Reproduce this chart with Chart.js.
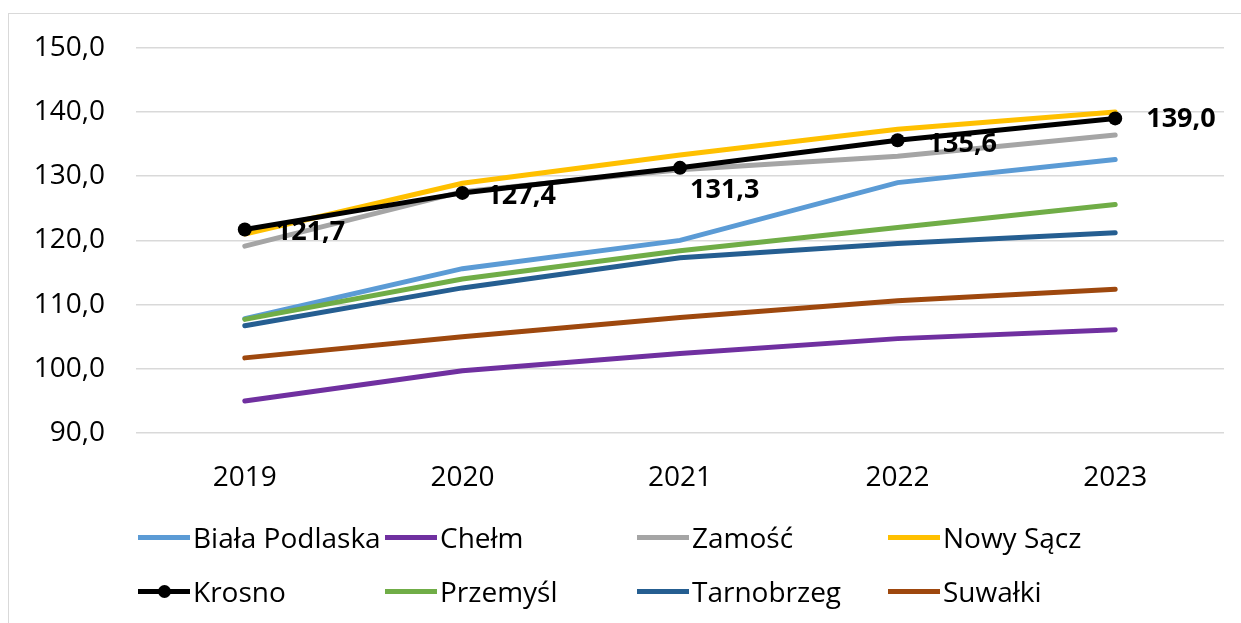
<!DOCTYPE html>
<html>
<head>
<meta charset="utf-8">
<script src="https://cdn.jsdelivr.net/npm/chart.js@4"></script>
<style>
  html, body { margin: 0; padding: 0; background: #fff; overflow: hidden; }
  #frame { position: absolute; left: 8px; top: 13px; width: 1260px; height: 640px;
           border: 1.5px solid #d9d9d9; box-sizing: border-box; }
  #c { position: absolute; left: 0; top: 0; }
  #legend { position: absolute; left: 138px; top: 514px; display: grid;
            grid-template-columns: 247px 252px 251px 250px; grid-auto-rows: 54px;
            font-family: "Open Sans", sans-serif; font-size: 28px; color: #000; }
  .item { display: flex; align-items: center; white-space: nowrap; height: 46px; }
  .swatch { position: relative; width: 52px; height: 5px; margin-right: 3px; flex: none; }
  .dot { position: absolute; left: 20px; top: -4px; width: 13px; height: 13px; border-radius: 50%; }
</style>
</head>
<body>
<div id="frame"></div>
<canvas id="c" width="1241" height="623"></canvas>
<div id="legend"></div>
<script>
const years = ['2019', '2020', '2021', '2022', '2023'];
const cities = ['Biała Podlaska', 'Chełm', 'Zamość', 'Nowy Sącz', 'Krosno', 'Przemyśl', 'Tarnobrzeg', 'Suwałki'];
const colors = ['#5B9BD5', '#7030A0', '#A5A5A5', '#FFC000', '#000000', '#70AD47', '#255E91', '#9E480E'];

const bialaPodlaska = [107.8, 115.6, 120.0, 129.0, 132.6];
const chelm = [95.0, 99.7, 102.4, 104.7, 106.1];
const zamosc = [119.1, 127.6, 131.0, 133.1, 136.4];
const nowySacz = [121.0, 128.9, 133.3, 137.3, 140.0];
const krosno = [121.7, 127.4, 131.3, 135.6, 139.0];
const przemysl = [107.7, 114.0, 118.4, 122.0, 125.6];
const tarnobrzeg = [106.7, 112.6, 117.3, 119.5, 121.2];
const suwalki = [101.7, 105.0, 108.0, 110.6, 112.4];

const series = [bialaPodlaska, chelm, zamosc, nowySacz, krosno, przemysl, tarnobrzeg, suwalki];
const KROSNO = 4;

const fmt = v => v.toFixed(1).replace('.', ',');

// label offsets for Krosno data labels (dx, dy from the point)
const labelShift = [[31, 3], [24, 3], [10, 22], [30, 4], [31, 1]];

const krosnoLabels = {
  id: 'krosnoLabels',
  afterDatasetsDraw(chart) {
    const meta = chart.getDatasetMeta(KROSNO);
    const ctx = chart.ctx;
    ctx.save();
    ctx.font = 'bold 27px "Open Sans", sans-serif';
    ctx.fillStyle = '#000';
    ctx.textAlign = 'left';
    ctx.textBaseline = 'middle';
    meta.data.forEach((pt, i) => {
      const [dx, dy] = labelShift[i];
      ctx.fillText(fmt(krosno[i]), pt.x + dx, pt.y + dy);
    });
    ctx.restore();
  }
};

const datasets = series.map((data, i) => ({
  label: cities[i],
  data: data,
  borderColor: colors[i],
  backgroundColor: colors[i],
  borderWidth: 5,
  pointRadius: i === KROSNO ? 7 : 0,
  pointHoverRadius: i === KROSNO ? 7 : 0,
  pointBorderWidth: 0,
  tension: 0,
  borderCapStyle: 'round',
  order: 10 - i
}));

new Chart(document.getElementById('c'), {
  type: 'line',
  data: { labels: years, datasets: datasets },
  options: {
    responsive: false,
    animation: false,
    layout: { padding: { left: 0, right: 17, top: 46, bottom: 0 } },
    plugins: { legend: { display: false }, tooltip: { enabled: false } },
    scales: {
      x: {
        offset: true,
        grid: { display: false },
        border: { display: false },
        ticks: { color: '#000', padding: 20, font: { family: 'Open Sans', size: 28 } },
        afterFit: s => { s.height = 190; }
      },
      y: {
        min: 90,
        max: 150,
        grid: { color: '#d9d9d9', lineWidth: 1.5, drawTicks: false },
        border: { display: false },
        ticks: {
          stepSize: 10,
          color: '#000',
          padding: 31,
          font: { family: 'Open Sans', size: 28 },
          callback: v => fmt(v)
        },
        afterFit: s => { s.width = 136; }
      }
    }
  },
  plugins: [krosnoLabels]
});

// legend, 4 columns in two rows
const legend = document.getElementById('legend');
cities.forEach((name, i) => {
  const item = document.createElement('div');
  item.className = 'item';
  const sw = document.createElement('span');
  sw.className = 'swatch';
  sw.style.background = colors[i];
  if (i === KROSNO) {
    const dot = document.createElement('span');
    dot.className = 'dot';
    dot.style.background = colors[i];
    sw.appendChild(dot);
  }
  item.appendChild(sw);
  item.appendChild(document.createTextNode(name));
  legend.appendChild(item);
});
</script>
</body>
</html>
